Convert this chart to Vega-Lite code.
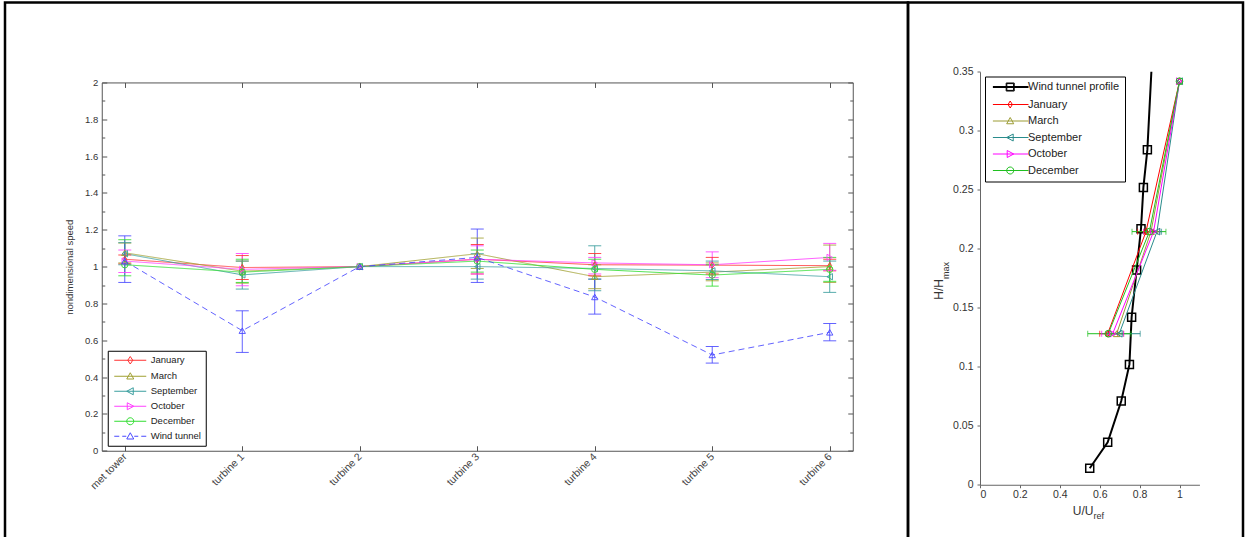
{
  "$schema": "https://vega.github.io/schema/vega-lite/v6.json",
  "background": "white",
  "padding": {"left": 3, "top": 0.5, "right": 0, "bottom": 0},
  "spacing": 0,
  "bounds": "flush",
  "config": {
    "view": {"stroke": "#000", "strokeWidth": 2.5},
    "font": "Liberation Sans",
    "axis": {"grid": false, "labelFont": "Liberation Sans", "titleFont": "Liberation Sans", "labelColor": "#333", "titleColor": "#333", "domainColor": "#555", "tickColor": "#555", "titleFontWeight": "normal", "labelFontSize": 9.5, "titleFontSize": 9.5},
    "legend": {"labelFont": "Liberation Sans", "labelColor": "#222"}
  },
  "datasets": {
    "left": [
      {"station": "met tower", "series": "January", "v": 1.04, "lo": 1.015, "hi": 1.063},
      {"station": "met tower", "series": "March", "v": 1.075, "lo": 1.02, "hi": 1.128},
      {"station": "met tower", "series": "September", "v": 1.07, "lo": 1.01, "hi": 1.13},
      {"station": "met tower", "series": "October", "v": 1.03, "lo": 0.968, "hi": 1.09},
      {"station": "met tower", "series": "December", "v": 1.01, "lo": 0.95, "hi": 1.146},
      {"station": "met tower", "series": "Wind tunnel", "v": 1.03, "lo": 0.914, "hi": 1.167},
      {"station": "turbine 1", "series": "January", "v": 0.995, "lo": 0.93, "hi": 1.06},
      {"station": "turbine 1", "series": "March", "v": 0.975, "lo": 0.91, "hi": 1.03},
      {"station": "turbine 1", "series": "September", "v": 0.955, "lo": 0.878, "hi": 1.03},
      {"station": "turbine 1", "series": "October", "v": 0.985, "lo": 0.896, "hi": 1.071},
      {"station": "turbine 1", "series": "December", "v": 0.97, "lo": 0.914, "hi": 1.04},
      {"station": "turbine 1", "series": "Wind tunnel", "v": 0.652, "lo": 0.534, "hi": 0.76},
      {"station": "turbine 2", "series": "January", "v": 1.0, "lo": null, "hi": null},
      {"station": "turbine 2", "series": "March", "v": 1.0, "lo": null, "hi": null},
      {"station": "turbine 2", "series": "September", "v": 1.0, "lo": null, "hi": null},
      {"station": "turbine 2", "series": "October", "v": 1.0, "lo": null, "hi": null},
      {"station": "turbine 2", "series": "December", "v": 1.0, "lo": null, "hi": null},
      {"station": "turbine 2", "series": "Wind tunnel", "v": 1.0, "lo": null, "hi": null},
      {"station": "turbine 3", "series": "January", "v": 1.04, "lo": 0.96, "hi": 1.12},
      {"station": "turbine 3", "series": "March", "v": 1.07, "lo": 0.99, "hi": 1.155},
      {"station": "turbine 3", "series": "September", "v": 1.0, "lo": 0.932, "hi": 1.07},
      {"station": "turbine 3", "series": "October", "v": 1.04, "lo": 0.96, "hi": 1.113},
      {"station": "turbine 3", "series": "December", "v": 1.03, "lo": 0.97, "hi": 1.09},
      {"station": "turbine 3", "series": "Wind tunnel", "v": 1.05, "lo": 0.914, "hi": 1.204},
      {"station": "turbine 4", "series": "January", "v": 1.01, "lo": 0.95, "hi": 1.071},
      {"station": "turbine 4", "series": "March", "v": 0.945, "lo": 0.88, "hi": 1.01},
      {"station": "turbine 4", "series": "September", "v": 0.99, "lo": 0.869, "hi": 1.113},
      {"station": "turbine 4", "series": "October", "v": 1.02, "lo": 0.96, "hi": 1.05},
      {"station": "turbine 4", "series": "December", "v": 0.985, "lo": 0.932, "hi": 1.04},
      {"station": "turbine 4", "series": "Wind tunnel", "v": 0.835, "lo": 0.742, "hi": 0.932},
      {"station": "turbine 5", "series": "January", "v": 1.008, "lo": 0.96, "hi": 1.05},
      {"station": "turbine 5", "series": "March", "v": 0.97, "lo": 0.923, "hi": 1.02},
      {"station": "turbine 5", "series": "September", "v": 0.977, "lo": 0.93, "hi": 1.03},
      {"station": "turbine 5", "series": "October", "v": 1.01, "lo": 0.94, "hi": 1.08},
      {"station": "turbine 5", "series": "December", "v": 0.954, "lo": 0.894, "hi": 1.01},
      {"station": "turbine 5", "series": "Wind tunnel", "v": 0.52, "lo": 0.476, "hi": 0.566},
      {"station": "turbine 6", "series": "January", "v": 1.005, "lo": 0.977, "hi": 1.04},
      {"station": "turbine 6", "series": "March", "v": 1.0, "lo": 0.914, "hi": 1.117},
      {"station": "turbine 6", "series": "September", "v": 0.945, "lo": 0.86, "hi": 1.03},
      {"station": "turbine 6", "series": "October", "v": 1.05, "lo": 0.98, "hi": 1.126},
      {"station": "turbine 6", "series": "December", "v": 0.985, "lo": 0.92, "hi": 1.05},
      {"station": "turbine 6", "series": "Wind tunnel", "v": 0.643, "lo": 0.597, "hi": 0.691}
    ],
    "right": [
      {"series": "January", "u": 0.64, "h": 0.128, "lo": 0.6, "hi": 0.69},
      {"series": "January", "u": 0.832, "h": 0.2145, "lo": 0.79, "hi": 0.87},
      {"series": "January", "u": 1.0, "h": 0.342, "lo": null, "hi": null},
      {"series": "March", "u": 0.685, "h": 0.128, "lo": 0.65, "hi": 0.72},
      {"series": "March", "u": 0.857, "h": 0.2145, "lo": 0.82, "hi": 0.89},
      {"series": "March", "u": 1.0, "h": 0.342, "lo": null, "hi": null},
      {"series": "September", "u": 0.698, "h": 0.128, "lo": 0.64, "hi": 0.803},
      {"series": "September", "u": 0.887, "h": 0.2145, "lo": 0.84, "hi": 0.91},
      {"series": "September", "u": 1.0, "h": 0.342, "lo": null, "hi": null},
      {"series": "October", "u": 0.665, "h": 0.128, "lo": 0.61, "hi": 0.72},
      {"series": "October", "u": 0.87, "h": 0.2145, "lo": 0.82, "hi": 0.9},
      {"series": "October", "u": 1.0, "h": 0.342, "lo": null, "hi": null},
      {"series": "December", "u": 0.643, "h": 0.128, "lo": 0.54, "hi": 0.757},
      {"series": "December", "u": 0.849, "h": 0.2145, "lo": 0.762, "hi": 0.932},
      {"series": "December", "u": 1.0, "h": 0.342, "lo": null, "hi": null}
    ],
    "profile": [
      {"u": 0.55, "h": 0.014},
      {"u": 0.64, "h": 0.036},
      {"u": 0.708, "h": 0.071},
      {"u": 0.749, "h": 0.102},
      {"u": 0.76, "h": 0.142},
      {"u": 0.785, "h": 0.182},
      {"u": 0.807, "h": 0.217},
      {"u": 0.819, "h": 0.252},
      {"u": 0.839, "h": 0.284},
      {"u": 0.859, "h": 0.35}
    ]
  },
  "hconcat": [
    {
      "width": 903,
      "height": 536,
      "data": {"name": "left"},
      "resolve": {"scale": {"color": "independent", "shape": "independent", "strokeDash": "independent"}, "axis": {"x": "independent", "y": "independent"}},
      "layer": [
        {
          "mark": {"type": "line", "strokeWidth": 1, "opacity": 0.85},
          "encoding": {
            "x": {"field": "station", "type": "nominal", "scale": {"type": "point", "domain": ["met tower", "turbine 1", "turbine 2", "turbine 3", "turbine 4", "turbine 5", "turbine 6"], "range": [96.75, 847.75], "padding": 0.196},
              "axis": {"orient": "bottom", "offset": -87.75, "title": null, "labelAngle": -45, "labelAlign": "right", "labelBaseline": "middle", "labelPadding": 9, "tickSize": -5, "labelFontSize": 10.5, "labelColor": "#444"}},
            "y": {"field": "v", "type": "quantitative", "scale": {"domain": [0, 2], "range": [448.25, 79.95], "nice": false, "zero": false},
              "axis": {"orient": "left", "offset": -96.75, "title": "nondimensional speed", "values": [0, 0.2, 0.4, 0.6, 0.8, 1, 1.2, 1.4, 1.6, 1.8, 2], "format": "~g", "tickSize": -5, "labelPadding": 9, "titleX": -29, "titleY": 264.25, "titleAlign": "center", "titleBaseline": "alphabetic"}},
            "color": {"field": "series", "type": "nominal", "scale": {"domain": ["January", "March", "September", "October", "December", "Wind tunnel"], "range": ["#ff3030", "#a0a030", "#3a9e9e", "#ff40ff", "#30dd30", "#4848ff"]}, "legend": null},
            "strokeDash": {"field": "series", "type": "nominal", "scale": {"domain": ["January", "March", "September", "October", "December", "Wind tunnel"], "range": [[1, 0], [1, 0], [1, 0], [1, 0], [1, 0], [6, 4]]}, "legend": null}
          }
        },
        {
          "mark": {"type": "rule", "strokeWidth": 1, "opacity": 0.85},
          "encoding": {
            "x": {"field": "station", "type": "nominal", "scale": {"type": "point", "domain": ["met tower", "turbine 1", "turbine 2", "turbine 3", "turbine 4", "turbine 5", "turbine 6"], "range": [96.75, 847.75], "padding": 0.196},
              "axis": {"orient": "top", "offset": -79.95, "title": null, "labels": false, "tickSize": -5}},
            "y": {"field": "lo", "type": "quantitative", "scale": {"domain": [0, 2], "range": [448.25, 79.95], "nice": false, "zero": false},
              "axis": {"orient": "right", "offset": -55.25, "title": null, "labels": false, "values": [0, 0.2, 0.4, 0.6, 0.8, 1, 1.2, 1.4, 1.6, 1.8, 2], "tickSize": -5}},
            "y2": {"field": "hi"},
            "color": {"field": "series", "type": "nominal", "scale": {"domain": ["January", "March", "September", "October", "December", "Wind tunnel"], "range": ["#ff3030", "#a0a030", "#3a9e9e", "#ff40ff", "#30dd30", "#4848ff"]}, "legend": null}
          }
        },
        {
          "mark": {"type": "tick", "orient": "horizontal", "size": 13, "thickness": 1, "opacity": 0.85},
          "encoding": {
            "x": {"field": "station", "type": "nominal", "scale": {"type": "point", "domain": ["met tower", "turbine 1", "turbine 2", "turbine 3", "turbine 4", "turbine 5", "turbine 6"], "range": [96.75, 847.75], "padding": 0.196}, "axis": null},
            "y": {"field": "lo", "type": "quantitative", "scale": {"domain": [0, 2], "range": [448.25, 79.95], "nice": false, "zero": false},
              "axis": {"orient": "left", "offset": -96.75, "title": null, "labels": false, "domain": false, "values": [0.1, 0.3, 0.5, 0.7, 0.9, 1.1, 1.3, 1.5, 1.7, 1.9], "tickSize": -3}},
            "color": {"field": "series", "type": "nominal", "scale": {"domain": ["January", "March", "September", "October", "December", "Wind tunnel"], "range": ["#ff3030", "#a0a030", "#3a9e9e", "#ff40ff", "#30dd30", "#4848ff"]}, "legend": null}
          }
        },
        {
          "mark": {"type": "tick", "orient": "horizontal", "size": 13, "thickness": 1, "opacity": 0.85},
          "encoding": {
            "x": {"field": "station", "type": "nominal", "scale": {"type": "point", "domain": ["met tower", "turbine 1", "turbine 2", "turbine 3", "turbine 4", "turbine 5", "turbine 6"], "range": [96.75, 847.75], "padding": 0.196}, "axis": null},
            "y": {"field": "hi", "type": "quantitative", "scale": {"domain": [0, 2], "range": [448.25, 79.95], "nice": false, "zero": false},
              "axis": {"orient": "right", "offset": -55.25, "title": null, "labels": false, "domain": false, "values": [0.1, 0.3, 0.5, 0.7, 0.9, 1.1, 1.3, 1.5, 1.7, 1.9], "tickSize": -3}},
            "color": {"field": "series", "type": "nominal", "scale": {"domain": ["January", "March", "September", "October", "December", "Wind tunnel"], "range": ["#ff3030", "#a0a030", "#3a9e9e", "#ff40ff", "#30dd30", "#4848ff"]}, "legend": null}
          }
        },
        {
          "mark": {"type": "point", "filled": false, "size": 40, "strokeWidth": 1, "opacity": 0.9},
          "encoding": {
            "x": {"field": "station", "type": "nominal", "scale": {"type": "point", "domain": ["met tower", "turbine 1", "turbine 2", "turbine 3", "turbine 4", "turbine 5", "turbine 6"], "range": [96.75, 847.75], "padding": 0.196}, "axis": null},
            "y": {"field": "v", "type": "quantitative", "scale": {"domain": [0, 2], "range": [448.25, 79.95], "nice": false, "zero": false}, "axis": null},
            "color": {"field": "series", "type": "nominal", "scale": {"domain": ["January", "March", "September", "October", "December", "Wind tunnel"], "range": ["#ff3030", "#a0a030", "#3a9e9e", "#ff40ff", "#30dd30", "#4848ff"]}, "legend": null},
            "shape": {"field": "series", "type": "nominal", "scale": {"domain": ["January", "March", "September", "October", "December", "Wind tunnel"], "range": ["M0,-1L0.62,0L0,1L-0.62,0Z", "triangle-up", "triangle-left", "triangle-right", "circle", "triangle-up"]}, "legend": null}
          }
        },
        {
          "mark": {"type": "point", "filled": false, "opacity": 0},
          "encoding": {
            "x": {"field": "station", "type": "nominal", "scale": {"type": "point", "domain": ["met tower", "turbine 1", "turbine 2", "turbine 3", "turbine 4", "turbine 5", "turbine 6"], "range": [96.75, 847.75], "padding": 0.196}, "axis": null},
            "y": {"field": "v", "type": "quantitative", "scale": {"domain": [0, 2], "range": [448.25, 79.95], "nice": false, "zero": false}, "axis": null},
            "color": {"field": "series", "type": "nominal", "scale": {"domain": ["January", "March", "September", "October", "December", "Wind tunnel"], "range": ["#ff3030", "#a0a030", "#3a9e9e", "#ff40ff", "#30dd30", "#4848ff"]},
              "legend": {"title": null, "orient": "none", "legendX": 102.75, "legendY": 348.25, "symbolSize": 100, "symbolStrokeWidth": 1, "symbolOpacity": 1, "labelOffset": 28, "rowPadding": 4, "padding": 4, "strokeColor": "#000", "fillColor": "white", "labelFontSize": 9.5}},
            "shape": {"field": "series", "type": "nominal", "scale": {"domain": ["January", "March", "September", "October", "December", "Wind tunnel"], "range": [
              "M-0.6,0L5.8,0M2.6,-0.75L3.1,0L2.6,0.75L2.1,0Z",
              "M-0.6,0L5.8,0M2.6,-0.7L3.3,0.55L1.9,0.55Z",
              "M-0.6,0L5.8,0M1.9,0L3.2,-0.7L3.2,0.7Z",
              "M-0.6,0L5.8,0M3.3,0L2.0,-0.7L2.0,0.7Z",
              "M-0.6,0L5.8,0M3.3,0A0.7,0.7,0,1,1,1.9,0A0.7,0.7,0,1,1,3.3,0Z",
              "M-0.6,0L0.4,0M1.0,0L1.8,0M3.4,0L4.2,0M4.8,0L5.8,0M2.6,-0.7L3.3,0.55L1.9,0.55Z"
            ]},
              "legend": {"title": null, "orient": "none", "legendX": 102.75, "legendY": 348.25, "symbolSize": 100, "symbolStrokeWidth": 1, "symbolOpacity": 1, "labelOffset": 28, "rowPadding": 4, "padding": 4, "strokeColor": "#000", "fillColor": "white", "labelFontSize": 9.5}}
          }
        }
      ]
    },
    {
      "width": 335,
      "height": 536,
      "resolve": {"scale": {"color": "independent", "shape": "independent"}, "axis": {"x": "independent", "y": "independent"}},
      "layer": [
        {
          "data": {"name": "profile"},
          "mark": {"type": "line", "color": "#000", "strokeWidth": 2},
          "encoding": {
            "x": {"field": "u", "type": "quantitative", "scale": {"domain": [0, 1.1], "range": [72, 291.45], "nice": false, "zero": false},
              "axis": {"orient": "bottom", "offset": -53.75, "title": "U/U", "titleX": 185, "titleY": 30, "titleAlign": "right", "titleBaseline": "alphabetic", "titleFontSize": 12, "values": [0, 0.2, 0.4, 0.6, 0.8, 1], "format": "~g", "tickSize": 3, "labelPadding": 2, "labelFontSize": 10.5, "domainColor": "#666", "tickColor": "#666"}},
            "y": {"field": "h", "type": "quantitative", "scale": {"domain": [0, 0.35], "range": [482.25, 69.25], "nice": false, "zero": false},
              "axis": {"orient": "left", "offset": -72, "title": "H/H", "titleX": -38, "titleY": 276, "titleAlign": "right", "titleBaseline": "alphabetic", "titleFontSize": 12, "values": [0, 0.05, 0.1, 0.15, 0.2, 0.25, 0.3, 0.35], "format": "~g", "tickSize": 3, "labelPadding": 4, "labelFontSize": 10.5, "domainColor": "#666", "tickColor": "#666"}},
            "order": {"field": "h", "type": "quantitative"}
          }
        },
        {
          "data": {"name": "profile"},
          "transform": [{"filter": "datum.h < 0.3"}],
          "mark": {"type": "point", "shape": "square", "filled": false, "size": 64, "color": "#000", "strokeWidth": 1.5, "opacity": 1},
          "encoding": {
            "x": {"field": "u", "type": "quantitative", "scale": {"domain": [0, 1.1], "range": [72, 291.45], "nice": false, "zero": false},
              "axis": {"orient": "bottom", "offset": -53.75, "title": "ref", "titleX": 185, "titleY": 34, "titleAlign": "left", "titleBaseline": "alphabetic", "titleFontSize": 9, "labels": false, "ticks": false, "domain": false}},
            "y": {"field": "h", "type": "quantitative", "scale": {"domain": [0, 0.35], "range": [482.25, 69.25], "nice": false, "zero": false},
              "axis": {"orient": "left", "offset": -72, "title": "max", "titleX": -32, "titleY": 276, "titleAlign": "left", "titleBaseline": "alphabetic", "titleFontSize": 9, "labels": false, "ticks": false, "domain": false}}
          }
        },
        {
          "data": {"name": "right"},
          "mark": {"type": "line", "strokeWidth": 1},
          "encoding": {
            "x": {"field": "u", "type": "quantitative", "scale": {"domain": [0, 1.1], "range": [72, 291.45], "nice": false, "zero": false}, "axis": null},
            "y": {"field": "h", "type": "quantitative", "scale": {"domain": [0, 0.35], "range": [482.25, 69.25], "nice": false, "zero": false}, "axis": null},
            "color": {"field": "series", "type": "nominal", "scale": {"domain": ["January", "March", "September", "October", "December"], "range": ["#ff0000", "#9c9c34", "#2a8c8c", "#ff00ff", "#20c020"]}, "legend": null},
            "order": {"field": "h", "type": "quantitative"}
          }
        },
        {
          "data": {"name": "right"},
          "mark": {"type": "rule", "strokeWidth": 1},
          "encoding": {
            "x": {"field": "lo", "type": "quantitative", "scale": {"domain": [0, 1.1], "range": [72, 291.45], "nice": false, "zero": false}, "axis": null},
            "x2": {"field": "hi"},
            "y": {"field": "h", "type": "quantitative", "scale": {"domain": [0, 0.35], "range": [482.25, 69.25], "nice": false, "zero": false}, "axis": null},
            "color": {"field": "series", "type": "nominal", "scale": {"domain": ["January", "March", "September", "October", "December"], "range": ["#ff0000", "#9c9c34", "#2a8c8c", "#ff00ff", "#20c020"]}, "legend": null}
          }
        },
        {
          "data": {"name": "right"},
          "mark": {"type": "tick", "orient": "vertical", "size": 6, "thickness": 1},
          "encoding": {
            "x": {"field": "lo", "type": "quantitative", "scale": {"domain": [0, 1.1], "range": [72, 291.45], "nice": false, "zero": false}, "axis": null},
            "y": {"field": "h", "type": "quantitative", "scale": {"domain": [0, 0.35], "range": [482.25, 69.25], "nice": false, "zero": false}, "axis": null},
            "color": {"field": "series", "type": "nominal", "scale": {"domain": ["January", "March", "September", "October", "December"], "range": ["#ff0000", "#9c9c34", "#2a8c8c", "#ff00ff", "#20c020"]}, "legend": null}
          }
        },
        {
          "data": {"name": "right"},
          "mark": {"type": "tick", "orient": "vertical", "size": 6, "thickness": 1},
          "encoding": {
            "x": {"field": "hi", "type": "quantitative", "scale": {"domain": [0, 1.1], "range": [72, 291.45], "nice": false, "zero": false}, "axis": null},
            "y": {"field": "h", "type": "quantitative", "scale": {"domain": [0, 0.35], "range": [482.25, 69.25], "nice": false, "zero": false}, "axis": null},
            "color": {"field": "series", "type": "nominal", "scale": {"domain": ["January", "March", "September", "October", "December"], "range": ["#ff0000", "#9c9c34", "#2a8c8c", "#ff00ff", "#20c020"]}, "legend": null}
          }
        },
        {
          "data": {"name": "right"},
          "mark": {"type": "point", "filled": false, "size": 45, "strokeWidth": 1, "opacity": 1},
          "encoding": {
            "x": {"field": "u", "type": "quantitative", "scale": {"domain": [0, 1.1], "range": [72, 291.45], "nice": false, "zero": false}, "axis": null},
            "y": {"field": "h", "type": "quantitative", "scale": {"domain": [0, 0.35], "range": [482.25, 69.25], "nice": false, "zero": false}, "axis": null},
            "color": {"field": "series", "type": "nominal", "scale": {"domain": ["January", "March", "September", "October", "December"], "range": ["#ff0000", "#9c9c34", "#2a8c8c", "#ff00ff", "#20c020"]}, "legend": null},
            "shape": {"field": "series", "type": "nominal", "scale": {"domain": ["January", "March", "September", "October", "December"], "range": ["M0,-1L0.62,0L0,1L-0.62,0Z", "triangle-up", "triangle-left", "triangle-right", "circle"]}, "legend": null}
          }
        },
        {
          "data": {"name": "right"},
          "mark": {"type": "point", "filled": false, "opacity": 0},
          "encoding": {
            "x": {"field": "u", "type": "quantitative", "scale": {"domain": [0, 1.1], "range": [72, 291.45], "nice": false, "zero": false}, "axis": null},
            "y": {"field": "h", "type": "quantitative", "scale": {"domain": [0, 0.35], "range": [482.25, 69.25], "nice": false, "zero": false}, "axis": null},
            "color": {"field": "series", "type": "nominal", "scale": {"domain": ["Wind tunnel profile", "January", "March", "September", "October", "December"], "range": ["#000000", "#ff0000", "#9c9c34", "#2a8c8c", "#ff00ff", "#20c020"]},
              "legend": {"title": null, "orient": "none", "legendX": 77, "legendY": 74, "symbolSize": 100, "symbolStrokeWidth": 1, "symbolOpacity": 1, "labelOffset": 27, "rowPadding": 4.5, "padding": 5, "strokeColor": "#000", "fillColor": "white", "labelFontSize": 11}},
            "shape": {"field": "series", "type": "nominal", "scale": {"domain": ["Wind tunnel profile", "January", "March", "September", "October", "December"], "range": [
              "M-0.52,-0.1L6.6,-0.1M-0.52,0.1L6.6,0.1M2.14,-0.8L3.74,-0.8L3.74,0.8L2.14,0.8ZM2.26,-0.68L3.62,-0.68L3.62,0.68L2.26,0.68Z",
              "M-0.52,0L6.6,0M2.94,-0.7L3.37,0L2.94,0.7L2.51,0Z",
              "M-0.52,0L6.6,0M2.94,-0.7L3.64,0.55L2.24,0.55Z",
              "M-0.52,0L6.6,0M2.24,0L3.54,-0.7L3.54,0.7Z",
              "M-0.52,0L6.6,0M3.64,0L2.34,-0.7L2.34,0.7Z",
              "M-0.52,0L6.6,0M3.64,0A0.7,0.7,0,1,1,2.24,0A0.7,0.7,0,1,1,3.64,0Z"
            ]},
              "legend": {"title": null, "orient": "none", "legendX": 77, "legendY": 74, "symbolSize": 100, "symbolStrokeWidth": 1, "symbolOpacity": 1, "labelOffset": 27, "rowPadding": 4.5, "padding": 5, "strokeColor": "#000", "fillColor": "white", "labelFontSize": 11}}
          }
        }
      ]
    }
  ]
}
